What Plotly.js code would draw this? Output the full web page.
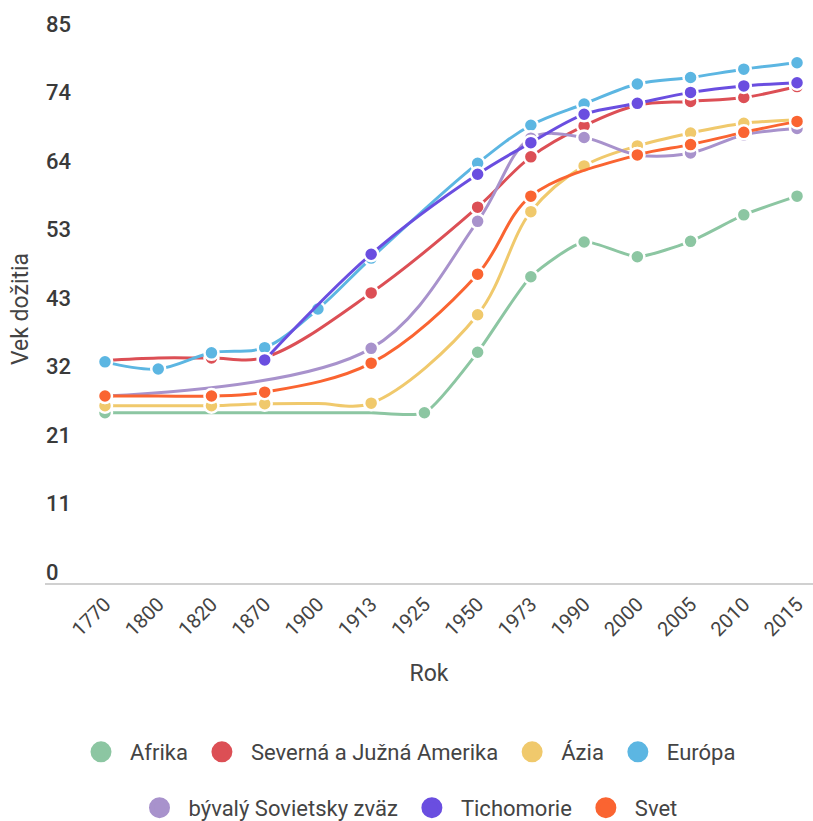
<!DOCTYPE html>
<html>
<head>
<meta charset="utf-8">
<script src="https://cdn.plot.ly/plotly-3.0.1.min.js"></script>
<style>html,body{margin:0;padding:0;background:#fff;}#chart{width:813px;height:821px;}</style>
</head>
<body>
<div id="chart"></div>
<script>
var years = ['1770','1800','1820','1870','1900','1913','1925','1950','1973','1990','2000','2005','2010','2015'];
var seriesNames = ['Afrika','Severná a Južná Amerika','Ázia','Európa','bývalý Sovietsky zväz','Tichomorie','Svet'];
// values (null = line just passes through, no reading)
var afrika     = [26.4, 26.4, 26.4, 26.4, 26.4, 26.4, 26.4, 35.8, 47.5, 52.9, 50.6, 53.0, 57.1, 60.0];
var amerika    = [34.5, 34.9, 34.9, 35.0, null, 45.0, null, 58.3, 66.1, 70.9, 74.1, 74.7, 75.3, 77.0];
var azia       = [27.5, 27.5, 27.5, 27.8, 27.85, 27.9, null, 41.6, 57.6, 64.7, 67.8, 69.8, 71.3, 71.8];
var europa     = [34.3, 33.2, 35.7, 36.5, 42.5, 50.4, null, 65.1, 71.0, 74.3, 77.4, 78.4, 79.7, 80.7];
var sovietsky  = [29.0, null, null, null, null, 36.4, null, 56.1, 69.0, 69.1, 66.4, 66.7, 69.5, 70.5];
var tichomorie = [null, null, null, 34.6, null, 51.0, null, 63.4, 68.3, 72.7, 74.4, 76.1, 77.1, 77.6];
var svet       = [29.0, 29.0, 29.0, 29.6, null, 34.1, null, 47.9, 60.0, null, 66.4, 68.0, 69.9, 71.6];
// years where a point marker is drawn
var afrikaMarked     = ['1770','1925','1950','1973','1990','2000','2005','2010','2015'];
var amerikaMarked    = ['1770','1820','1870','1913','1950','1973','1990','2000','2005','2010','2015'];
var aziaMarked       = ['1770','1820','1870','1913','1950','1973','1990','2000','2005','2010','2015'];
var europaMarked     = years;
var sovietskyMarked  = ['1770','1913','1950','1973','1990','2000','2005','2010','2015'];
var tichomorieMarked = ['1870','1913','1950','1973','1990','2000','2005','2010','2015'];
var svetMarked       = ['1770','1820','1870','1913','1950','1973','2000','2005','2010','2015'];
var yTickVals  = [0, 10.625, 21.25, 31.875, 42.5, 53.125, 63.75, 74.375, 85];
var yTickText  = ['0','11','21','32','43','53','64','74','85'];

var allSeries = [afrika, amerika, azia, europa, sovietsky, tichomorie, svet];
var allMarked = [afrikaMarked, amerikaMarked, aziaMarked, europaMarked, sovietskyMarked, tichomorieMarked, svetMarked];
var colors = ['#8cc6a2','#dc4f55','#f0c96c','#5cb6e2','#a892cc','#6a4ee0','#fa6431'];
var smooth = [0.6, 1, 1, 1, 1, 1, 1];

var traces = [];
allSeries.forEach(function(vals, i){
  var shown = years.map(function(y){ return allMarked[i].indexOf(y) >= 0; });
  traces.push({
    type:'scatter', mode:'lines+markers', x: years, y: vals, name: seriesNames[i],
    connectgaps:true, showlegend:false, cliponaxis:false,
    line:{color:colors[i], width:3, shape:'spline', smoothing:smooth[i]},
    marker:{color:colors[i], size:shown.map(function(s){return s?14:0;}),
            opacity:shown.map(function(s){return s?1:0;}),
            line:{color:'#ffffff', width:shown.map(function(s){return s?2.5:0;})}},
    hoverinfo:'x+y+name'
  });
});
allSeries.forEach(function(vals, i){
  traces.push({
    type:'scatter', mode:'markers', x:[null], y:[null], name: seriesNames[i],
    showlegend:true, legend: i < 4 ? 'legend' : 'legend2',
    marker:{color:colors[i], size:16, line:{color:colors[i], width:5}}
  });
});
traces.push({type:'scatter', mode:'markers', x:[null], y:[null], yaxis:'y2', showlegend:false, hoverinfo:'skip'});

var legendFont = {family:'Roboto, sans-serif', size:22, color:'#444'};
var layout = {
  width:813, height:821,
  margin:{l:45, r:0, t:35, b:238},
  paper_bgcolor:'#fff', plot_bgcolor:'#fff',
  font:{family:'Roboto, sans-serif', color:'#444'},
  xaxis:{
    type:'category', range:[-1.127, 13.30],
    showgrid:false, zeroline:false, showline:true, linecolor:'#d0d0d0', linewidth:1.5,
    ticks:'', tickangle:-45, tickfont:{family:'Roboto, sans-serif', size:20, color:'#444'},
    title:{text:'Rok', font:{family:'Roboto, sans-serif', size:23, color:'#444'}, standoff:25},
    automargin:false
  },
  yaxis:{
    range:[0,85], showgrid:false, zeroline:false, showline:false, ticks:'', showticklabels:false,
    title:{text:'Vek dožitia', font:{family:'Roboto, sans-serif', size:23, color:'#444'}, standoff:8},
    automargin:false
  },
  yaxis2:{
    overlaying:'y', side:'right', anchor:'free', position:0,
    range:[0,85], showgrid:false, zeroline:false, showline:false, ticks:'',
    tickvals:yTickVals, ticktext:yTickText, ticklabelshift:-11, ticklabelstandoff:0,
    tickfont:{family:'Roboto, sans-serif', size:22, color:'#3a3a3a', weight:500},
    automargin:false
  },
  legend:{orientation:'h', xref:'container', yref:'container', x:0.5, xanchor:'center', y:0.084, yanchor:'middle', font:legendFont, itemwidth:48, bgcolor:'rgba(0,0,0,0)'},
  legend2:{orientation:'h', xref:'container', yref:'container', x:0.5, xanchor:'center', y:0.016, yanchor:'middle', font:legendFont, itemwidth:48, bgcolor:'rgba(0,0,0,0)'},
  showlegend:true
};
Plotly.newPlot('chart', traces, layout, {displayModeBar:false});
</script>
</body>
</html>
